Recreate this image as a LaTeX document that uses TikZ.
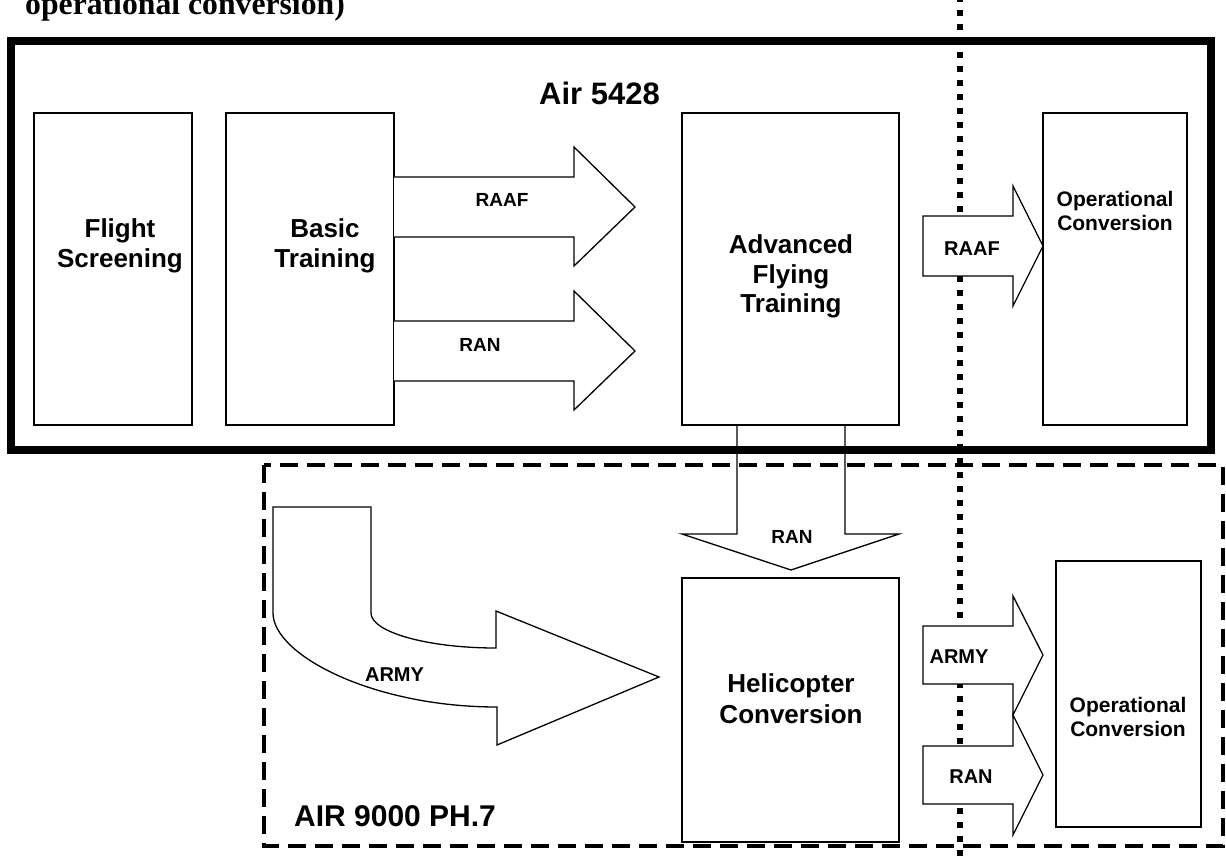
\documentclass[tikz,border=0pt]{standalone}
\usepackage{fontspec}
\setmainfont{Liberation Sans}
\newfontfamily\tnrfont{Liberation Serif}
\newcommand\fsz[1]{\fontsize{#1}{#1}\selectfont\bfseries}
\tikzset{
  box/.style={draw, line width=1.5pt, inner sep=0pt, fill=white},
  lbl/.style={anchor=base, inner sep=0pt},
  blockarrow/.style={draw, line width=1.3pt, fill=white, line join=miter},
  frameA/.style={line width=8pt},
  frameB/.style={line width=4pt, dash pattern=on 18pt off 9pt},
  divider/.style={line width=6pt, dash pattern=on 6pt off 8pt}
}
\begin{document}
\begin{tikzpicture}[x=1pt,y=-1pt]
\useasboundingbox[fill=white] (0,0) rectangle (1226,861);

% header text (clipped by the page, as in the reference)
\node[lbl, anchor=base west, font=\tnrfont\fontsize{31.7}{32}\selectfont\bfseries] (hdr) at (25,14.5) {operational conversion)};

% boxes
\node[box, minimum width=158pt, minimum height=312pt] (fs) at (113,269) {};
\node[box, minimum width=168pt, minimum height=312pt] (bt) at (310,269) {};
\node[box, minimum width=217pt, minimum height=312pt] (aft) at (790.5,269) {};
\node[box, minimum width=144pt, minimum height=312pt] (oca) at (1115,269) {};
\node[box, minimum width=217pt, minimum height=264pt] (hc) at (790.5,710) {};
\node[box, minimum width=145pt, minimum height=266pt] (ocb) at (1128.5,694) {};

% RAN down arrow (beneath frames)
\draw[blockarrow, fill=none] (737,425) -- (737,534) -- (682,534) -- (791,570) -- (899,534) -- (845,534) -- (845,425);

% frames
\draw[frameA] (11,41) rectangle (1211,450);
\draw[frameB] (264,465) rectangle (1223,846);

% dotted divider
\coordinate (dtop) at (960,-4);
\coordinate (dbot) at (960,861);
\draw[divider] (dtop) -- (dbot);

% block arrows
\draw[blockarrow] (394,177) -- (574,177) -- (574,147) -- (635,207) -- (574,266) -- (574,237) -- (394,237);
\draw[blockarrow] (394,321) -- (574,321) -- (574,291) -- (635,351) -- (574,410) -- (574,381) -- (394,381);
\draw[blockarrow] (923,216) -- (1013,216) -- (1013,186) -- (1043,246) -- (1013,306) -- (1013,276) -- (923,276) -- cycle;
\draw[blockarrow] (923,626) -- (1013,626) -- (1013,596) -- (1043,655) -- (1013,715) -- (1013,684) -- (923,684) -- cycle;
\draw[blockarrow] (923,746) -- (1013,746) -- (1013,715) -- (1043,775) -- (1013,835) -- (1013,804) -- (923,804) -- cycle;
\draw[blockarrow] (273,507) -- (371,507) -- (371,613) .. controls (371,632) and (427,648) .. (496,648)
  -- (496,611) -- (659,677) -- (497,745) -- (497,707) .. controls (373,707) and (273,655) .. (273,613) -- cycle;

% labels
\node[lbl, anchor=base east, font=\fsz{31}] (air1) at (660,105) {Air 5428};
\node[lbl, anchor=base west, font=\fsz{30}] (air2) at (294,826) {AIR 9000 PH.7};

\node[lbl, font=\fsz{26}] (fsA) at (120,237) {Flight};
\node[lbl, font=\fsz{26}] (fsB) at (120,267) {Screening};
\node[lbl, font=\fsz{26}] (btA) at (325,237) {Basic};
\node[lbl, font=\fsz{26}] (btB) at (325,267) {Training};
\node[lbl, font=\fsz{26}] (aftA) at (791,253) {Advanced};
\node[lbl, font=\fsz{26}] (aftB) at (791,283) {Flying};
\node[lbl, font=\fsz{26}] (aftC) at (791,312) {Training};
\node[lbl, font=\fsz{21}] (ocaA) at (1115,207) {Operational};
\node[lbl, font=\fsz{21}] (ocaB) at (1115,231) {Conversion};
\node[lbl, font=\fsz{26}] (hcA) at (791,692) {Helicopter};
\node[lbl, font=\fsz{26}] (hcB) at (791,723) {Conversion};
\node[lbl, font=\fsz{21}] (ocbA) at (1128,712) {Operational};
\node[lbl, font=\fsz{21}] (ocbB) at (1128,736) {Conversion};

\node[lbl, font=\fsz{19}] (l1) at (502,207) {RAAF};
\node[lbl, font=\fsz{19}] (l2) at (480,351) {RAN};
\node[lbl, font=\fsz{20}] (l3) at (972,255) {RAAF};
\node[lbl, font=\fsz{19}] (l4) at (792,543) {RAN};
\node[lbl, font=\fsz{20}] (l5) at (394.5,681) {ARMY};
\node[lbl, font=\fsz{20}] (l6) at (959,663) {ARMY};
\node[lbl, font=\fsz{20}] (l7) at (971,783) {RAN};
\end{tikzpicture}
\end{document}
